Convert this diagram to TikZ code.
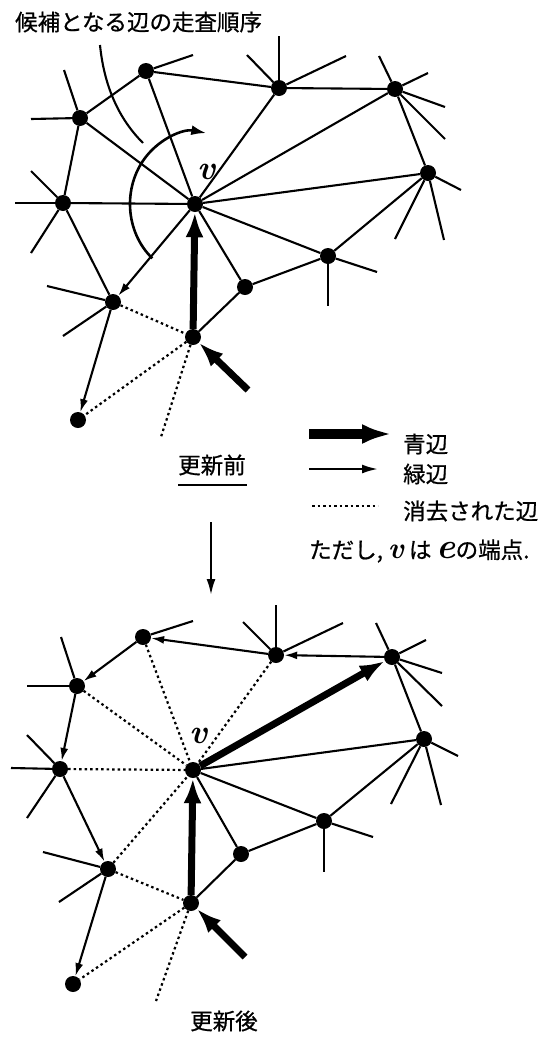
\documentclass[tikz,border=0pt]{standalone}
\usepackage{fontspec}
\newfontfamily\jp[FakeBold=0.8]{Noto Sans CJK JP}
\usetikzlibrary{arrows.meta}
\newcommand\stub[3]{\coordinate (#1) at (#2); \draw[edge] (#3) -- (#1);}
\begin{document}
\begin{tikzpicture}[x=1pt,y=-1pt,
  vtx/.style={circle,fill=black,inner sep=0pt,minimum size=16pt},
  edge/.style={line width=2.1pt},
  deleted/.style={line width=2.2pt,dash pattern=on 2.5pt off 3pt},
  greenedge/.style={line width=2.1pt,-{Latex[length=13pt,width=8pt]}},
  blueedge/.style={line width=7pt,-{Latex[length=25pt,width=18pt]}},
  lbl/.style={font=\jp\fontsize{22.5}{22.5}\selectfont,inner sep=0pt},
  vlbl/.style={font=\fontsize{34}{34}\selectfont\bfseries\itshape,inner sep=0pt}
]
\useasboundingbox (0,0) rectangle (555,1039);

% ---------- title ----------
\node[lbl,anchor=west] (title) at (15,22) {候補となる辺の走査順序};

% ---------- top graph (before) ----------
\node[vtx] (A) at (146,71) {};
\node[vtx] (B) at (80,118) {};
\node[vtx] (C) at (63,203) {};
\node[vtx] (V) at (195,204) {};
\node[vtx] (D) at (279,88) {};
\node[vtx] (E) at (395,89) {};
\node[vtx] (F) at (428,173) {};
\node[vtx] (G) at (328,256) {};
\node[vtx] (H) at (245,287) {};
\node[vtx] (I) at (113,302) {};
\node[vtx] (S) at (193,337) {};
\node[vtx] (J) at (78,420) {};
\node[vlbl] (vtop) at (207,172) {v};

\draw[edge] (A) -- (B) (A) -- (D) (A) -- (V) (B) -- (C) (B) -- (V)
  (C) -- (V) (C) -- (I) (D) -- (E) (D) -- (V) (E) -- (V) (E) -- (F)
  (F) -- (V) (F) -- (G) (G) -- (V) (G) -- (H) (H) -- (V) (H) -- (S);
\draw[deleted] (I) -- (S) (S) -- (J);
\coordinate (sd) at (161,437); \draw[deleted] (S) -- (sd);
\draw[greenedge] (V) -- (I);
\draw[greenedge] (I) -- (J);
\draw[blueedge] (S) -- (V);
\coordinate (sin) at (248,390); \draw[blueedge] (sin) -- (S);

\stub{a1}{193,55}{A}
\stub{b1}{31,119}{B} \stub{b2}{64,70}{B}
\stub{c1}{15,203}{C} \stub{c2}{31,171}{C} \stub{c3}{31,253}{C}
\stub{d1}{279,36}{D} \stub{d2}{247,55}{D} \stub{d3}{346,56}{D}
\stub{e1}{379,56}{E} \stub{e2}{428,73}{E} \stub{e3}{445,107}{E} \stub{e4}{445,139}{E}
\stub{f1}{461,190}{F} \stub{f2}{395,239}{F} \stub{f3}{444,240}{F}
\stub{g1}{377,272}{G} \stub{g2}{328,306}{G}
\stub{i1}{47,286}{I} \stub{i2}{63,336}{I}

\coordinate (cv1) at (100,45); \coordinate (cv2) at (143,143);
\draw[edge] (cv1) .. controls (104,85) and (118,118) .. (cv2);

\draw[line width=2.6pt,-{Latex[length=15pt,width=10pt]}]
  ([shift={(131:65 and 72)}]V.center) arc[start angle=131,end angle=280,x radius=65,y radius=72];

% ---------- legend ----------
\coordinate (lb1) at (309,434); \coordinate (lb2) at (392,434);
\draw[line width=10pt,-{Latex[length=30pt,width=20pt]}] (lb1) -- (lb2);
\node[lbl,anchor=west] (t1) at (403,444) {青辺};
\coordinate (lg1) at (309,469); \coordinate (lg2) at (378,469);
\draw[line width=2.2pt,-{Latex[length=16pt,width=9pt]}] (lg1) -- (lg2);
\node[lbl,anchor=west] (t2) at (403,474) {緑辺};
\coordinate (ld1) at (312,506); \coordinate (ld2) at (378,506);
\draw[deleted] (ld1) -- (ld2);
\node[lbl,anchor=west] (t3) at (403,511) {消去された辺};
\node[lbl,anchor=west] (t4) at (309,551) {ただし, {\fontsize{30}{30}\selectfont\rmfamily\bfseries\itshape v} は {\fontsize{36}{36}\selectfont\rmfamily\bfseries\itshape e}の端点.};

% ---------- before label and arrow ----------
\node[lbl] (before) at (212,465) {更新前};
\coordinate (u1) at (178,485); \coordinate (u2) at (247,485);
\draw[line width=2.8pt] (u1) -- (u2);
\coordinate (da1) at (211,522); \coordinate (da2) at (211,595);
\draw[line width=2.2pt,-{Latex[length=16pt,width=9pt]}] (da1) -- (da2);

% ---------- bottom graph (after) ----------
\node[vtx] (A2) at (143,637) {};
\node[vtx] (B2) at (77,686) {};
\node[vtx] (C2) at (60,769) {};
\node[vtx] (V2) at (193,770) {};
\node[vtx] (D2) at (276,655) {};
\node[vtx] (E2) at (392,657) {};
\node[vtx] (F2) at (424,739) {};
\node[vtx] (G2) at (324,821) {};
\node[vtx] (H2) at (241,854) {};
\node[vtx] (I2) at (108,869) {};
\node[vtx] (S2) at (191,903) {};
\node[vtx] (J2) at (73,984) {};
\node[vlbl] (vbot) at (199,736) {v};

\draw[edge] (V2) -- (F2) (V2) -- (G2) (V2) -- (H2) (E2) -- (F2)
  (F2) -- (G2) (G2) -- (H2) (H2) -- (S2);
\draw[deleted] (A2) -- (V2) (B2) -- (V2) (C2) -- (V2) (D2) -- (V2)
  (I2) -- (V2) (I2) -- (S2) (S2) -- (J2);
\coordinate (sd2) at (156,1001); \draw[deleted] (S2) -- (sd2);
\draw[greenedge] (E2) -- (D2);
\draw[greenedge] (D2) -- (A2);
\draw[greenedge] (A2) -- (B2);
\draw[greenedge] (B2) -- (C2);
\draw[greenedge] (C2) -- (I2);
\draw[greenedge] (I2) -- (J2);
\draw[blueedge] (V2) -- (E2);
\draw[blueedge] (S2) -- (V2);
\coordinate (sin2) at (245,957); \draw[blueedge] (sin2) -- (S2);

\stub{a21}{193,621}{A2}
\stub{b21}{27,686}{B2} \stub{b22}{61,637}{B2}
\stub{c21}{11,768}{C2} \stub{c22}{27,735}{C2} \stub{c23}{27,818}{C2}
\stub{d21}{276,605}{D2} \stub{d22}{243,622}{D2} \stub{d23}{343,623}{D2}
\stub{e21}{376,623}{E2} \stub{e22}{426,640}{E2} \stub{e23}{442,673}{E2} \stub{e24}{442,706}{E2}
\stub{f21}{458,756}{F2} \stub{f22}{391,804}{F2} \stub{f23}{441,805}{F2}
\stub{g21}{373,837}{G2} \stub{g22}{324,872}{G2}
\stub{i21}{43,852}{I2} \stub{i22}{59,902}{I2}

\node[lbl] (after) at (224,1021) {更新後};
\end{tikzpicture}
\end{document}
